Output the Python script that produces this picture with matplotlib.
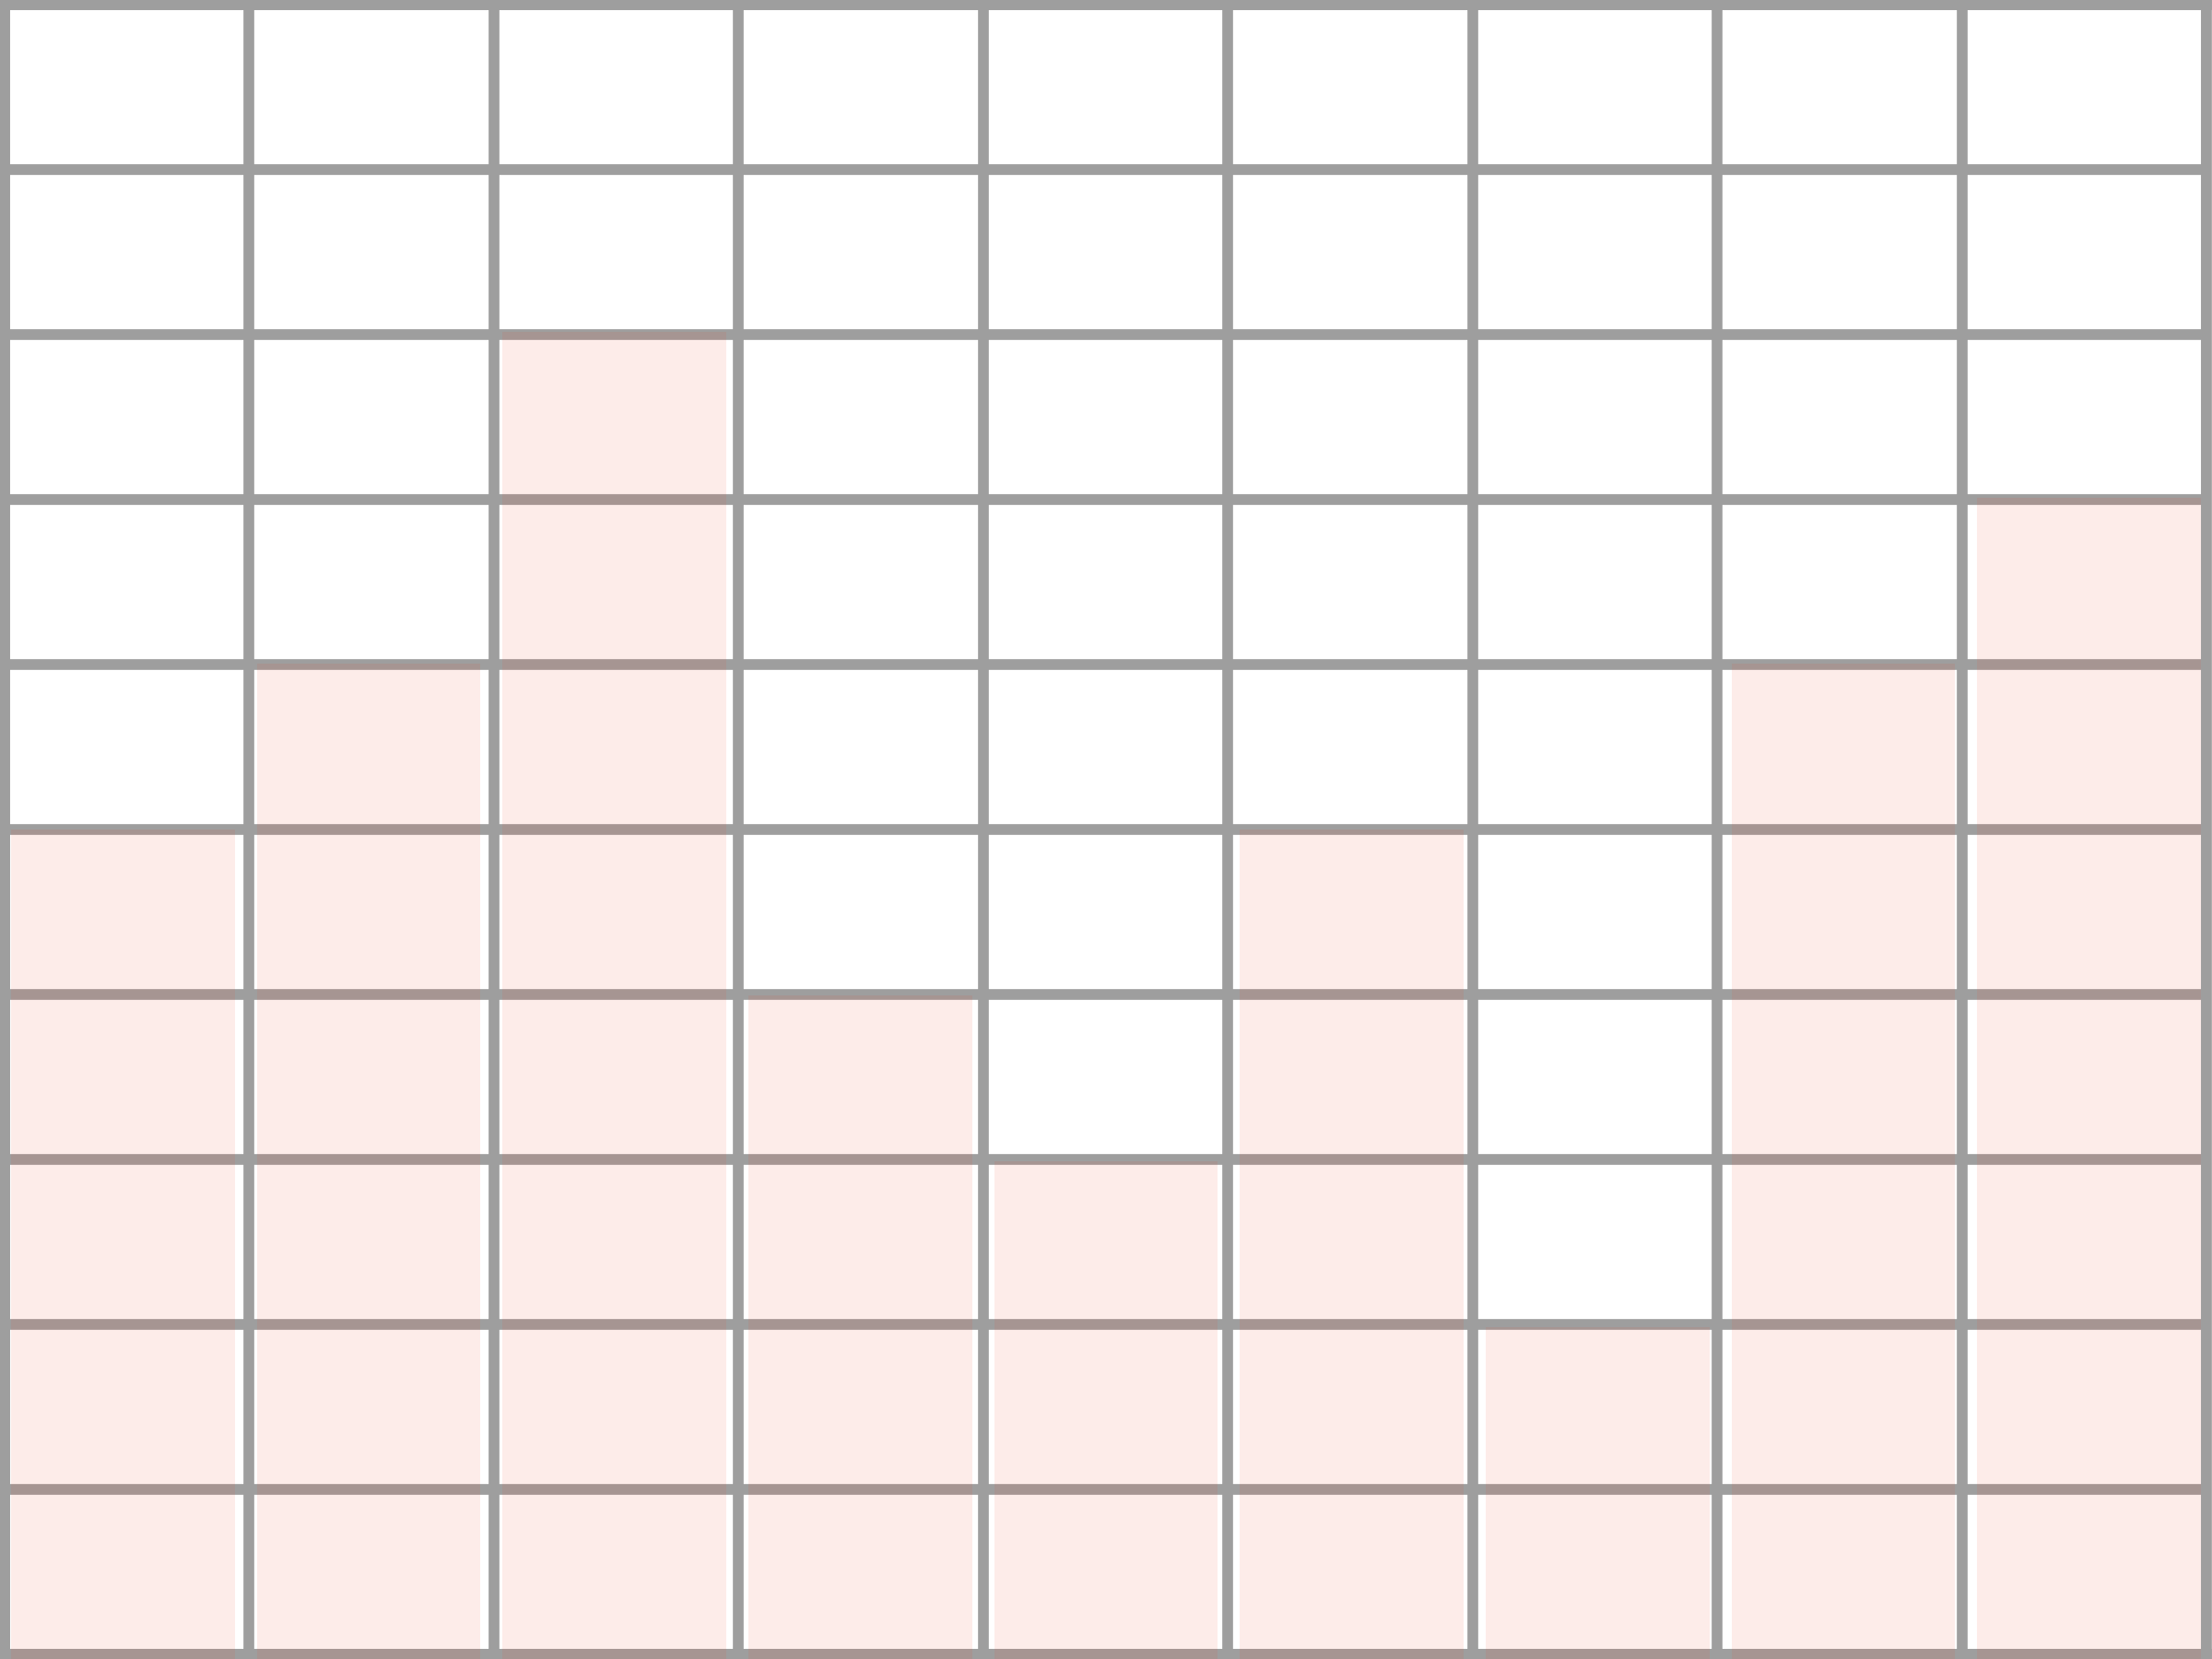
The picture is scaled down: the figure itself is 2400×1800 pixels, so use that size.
import numpy as np
import matplotlib
matplotlib.use('Agg')
import matplotlib.pyplot as plt

# bar heights, one per column
positions = np.arange(9)
values = [5, 6, 8, 4, 3, 5, 2, 6, 7]

grid_color = '#9e9e9e'
bar_color = '#f04a30'
lw = 4.2

fig = plt.figure(figsize=(12, 9), dpi=200)
fig.patch.set_facecolor('white')

# grid box sits a few pixels inside the figure edge
inset = [5 / 2400, 5 / 1800, 2389 / 2400, 1790 / 1800]


def style_grid_axes(a):
	a.set_xlim(0, 9)
	a.set_ylim(0, 10)
	a.set_xticks(range(10))
	a.set_yticks(range(11))
	a.tick_params(length=0, labelbottom=False, labelleft=False)
	for s in a.spines.values():
		s.set_visible(False)


# horizontal lines go under the bars
ax_bg = fig.add_axes(inset, zorder=0)
style_grid_axes(ax_bg)
ax_bg.set_facecolor('white')
ax_bg.yaxis.grid(True, color=grid_color, linewidth=lw)
ax_bg.xaxis.grid(False)
for side in ['top', 'bottom']:
	ax_bg.spines[side].set_visible(True)
	ax_bg.spines[side].set_color(grid_color)
	ax_bg.spines[side].set_linewidth(lw)

# bars
ax = fig.add_axes([0, 0, 1, 1], zorder=1)
ax.set_facecolor('none')
ax.bar(positions + 0.5, values, width=0.91, color=bar_color, alpha=0.1, linewidth=0)
ax.set_xlim(0, 9)
ax.set_ylim(0, 10)
ax.axis('off')

# vertical lines drawn on top of the bars
ax_top = fig.add_axes(inset, zorder=2)
style_grid_axes(ax_top)
ax_top.set_facecolor('none')
ax_top.xaxis.grid(True, color=grid_color, linewidth=lw)
ax_top.yaxis.grid(False)
for side in ['left', 'right']:
	ax_top.spines[side].set_visible(True)
	ax_top.spines[side].set_color(grid_color)
	ax_top.spines[side].set_linewidth(lw)

fig.savefig('out.png', dpi=200)
